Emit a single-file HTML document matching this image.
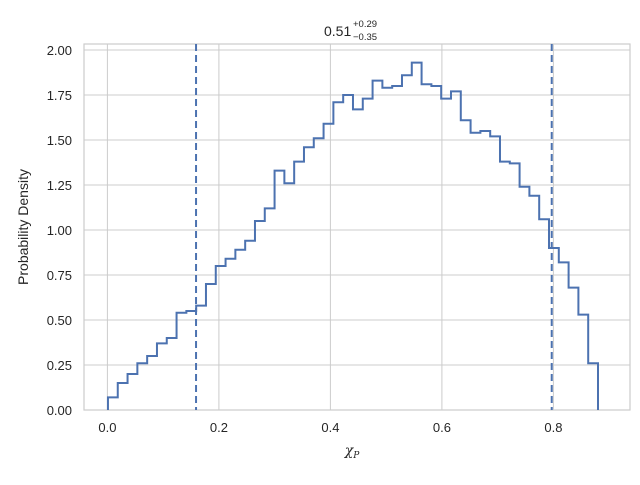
<!DOCTYPE html>
<html><head><meta charset="utf-8"><style>
body{margin:0;background:#fff;font-family:"Liberation Sans","DejaVu Sans",sans-serif}
</style></head><body>
<svg width="640" height="480" xmlns="http://www.w3.org/2000/svg">
<g id="grid"></g>
<rect x="84" y="44" width="546" height="366" fill="none" stroke="#cccccc" stroke-width="1.2"/>
<g id="ticks" font-size="13" fill="#262626"></g>
<path id="hist" fill="none" stroke="#4c72b0" stroke-width="2"/>
<g id="qlines"></g>
<text x="28" y="227" transform="rotate(-90 28 227)" text-anchor="middle" font-size="14" fill="#262626">Probability Density</text>
<text x="352" y="455" text-anchor="middle" font-size="14" font-family="DejaVu Serif, serif" font-style="italic" fill="#262626">χ<tspan font-size="9" dy="3">P</tspan></text>
<g fill="#262626">
<text x="324" y="36" font-size="14">0.51</text>
<text x="353" y="27" font-size="9.5">+0.29</text>
<text x="353" y="40" font-size="9.5">−0.35</text>
</g>
</svg>
<script>
const binStart = 0.001, binEnd = 0.880;
const densities = [0.07,0.15,0.20,0.26,0.30,0.37,0.40,0.54,0.55,0.58,0.70,0.80,0.84,0.89,0.94,1.05,1.12,1.33,1.26,1.38,1.46,1.51,1.59,1.71,1.75,1.67,1.73,1.83,1.79,1.80,1.86,1.93,1.81,1.80,1.73,1.77,1.61,1.54,1.55,1.52,1.38,1.37,1.24,1.19,1.06,0.90,0.82,0.68,0.53,0.26];
const quantiles = [0.159, 0.797];
const xTicks = [0.0,0.2,0.4,0.6,0.8];
const yTicks = [0,0.25,0.5,0.75,1.0,1.25,1.5,1.75,2.0];
const NS='http://www.w3.org/2000/svg';
const X = v => 107.4 + v*557.5;
const Y = v => 410 - v*180;
const grid=document.getElementById('grid'), ticks=document.getElementById('ticks');
xTicks.forEach(t=>{
  const l=document.createElementNS(NS,'line');
  
  
  l.setAttribute('x1',X(t));l.setAttribute('x2',X(t));l.setAttribute('y1',44);l.setAttribute('y2',410);
  l.setAttribute('stroke','#cccccc');grid.appendChild(l);
  const s=document.createElementNS(NS,'text');
  
  
  s.setAttribute('x',X(t));s.setAttribute('y',432);s.setAttribute('text-anchor','middle');
  s.textContent=t.toFixed(1);ticks.appendChild(s);
});
yTicks.forEach(t=>{
  const l=document.createElementNS(NS,'line');
  
  
  l.setAttribute('x1',84);l.setAttribute('x2',630);l.setAttribute('y1',Y(t));l.setAttribute('y2',Y(t));
  l.setAttribute('stroke','#cccccc');grid.appendChild(l);
  const s=document.createElementNS(NS,'text');
  
  
  s.setAttribute('x',72);s.setAttribute('y',Y(t)+5);s.setAttribute('text-anchor','end');
  s.textContent=t.toFixed(2);ticks.appendChild(s);
});
const w=(binEnd-binStart)/densities.length;
let d='M'+X(binStart)+','+Y(0);
densities.forEach((v,i)=>{d+=' L'+X(binStart+i*w)+','+Y(v)+' L'+X(binStart+(i+1)*w)+','+Y(v);});
d+=' L'+X(binEnd)+','+Y(0);
document.getElementById('hist').setAttribute('d',d);
const q=document.getElementById('qlines');
quantiles.forEach(v=>{
  const l=document.createElementNS(NS,'line');
  
  
  l.setAttribute('x1',X(v));l.setAttribute('x2',X(v));l.setAttribute('y1',44);l.setAttribute('y2',410);
  l.setAttribute('stroke','#4c72b0');l.setAttribute('stroke-width','2');l.setAttribute('stroke-dasharray','7,4');
  q.appendChild(l);
});
</script>
</body></html>
